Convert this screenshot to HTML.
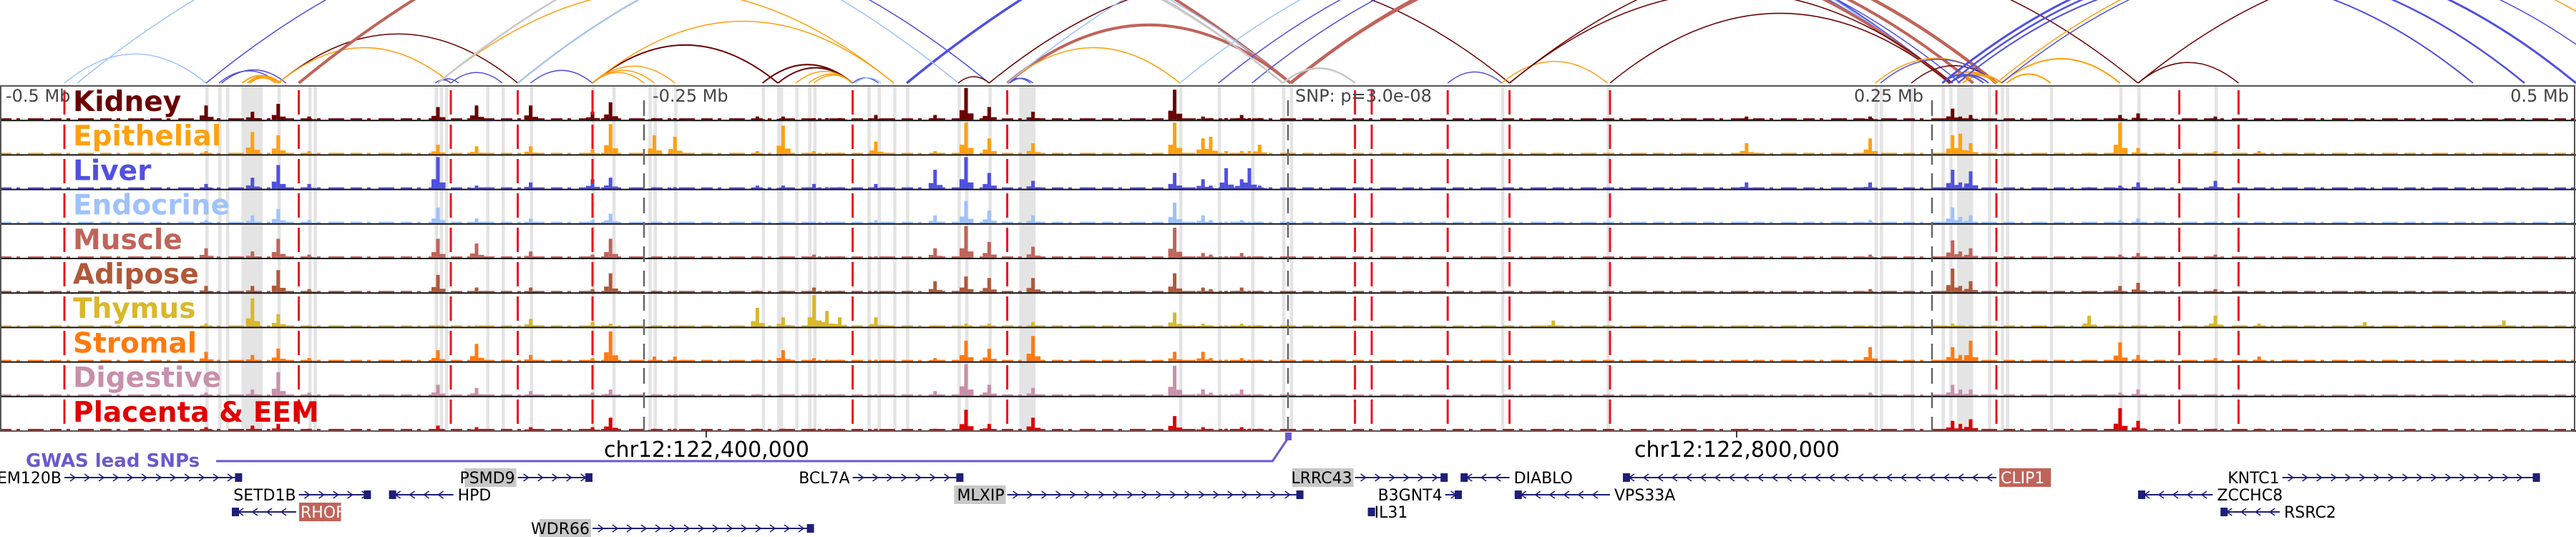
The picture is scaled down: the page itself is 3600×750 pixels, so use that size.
<!DOCTYPE html>
<html><head><meta charset="utf-8"><style>
html,body{margin:0;padding:0;background:#fff;}
svg{display:block;font-family:"DejaVu Sans","Liberation Sans",sans-serif;}
</style></head><body>
<svg id="chart" width="3600" height="750" viewBox="0 0 3600 750" xmlns="http://www.w3.org/2000/svg">
<g id="arcs"></g>
<g id="highlights"></g>
<g id="tracks"></g>
<g id="vlines"></g>
<g id="labels"></g>
<g id="genes"></g>
</svg>
<script>
const tissues = ["Kidney","Epithelial","Liver","Endocrine","Muscle","Adipose","Thymus","Stromal","Digestive","Placenta & EEM"];
const tissueColors = ["#6b0000","#ffa010","#5050e0","#9ec2fa","#c0645a","#b0583a","#d9b82a","#ff7a10","#c890aa","#e00000"];
const peakKb = [-420,-402,-392,-380,-330,-315,-294,-270,-263,-246,-238,-206,-196,-184,-179,-174,-160,-137,-125,-116,-99,-44,-33,-30,-24,-18,-15,-11,103,178,226,258,261,265,311,323,330,360,377,418,472];
const peakHeights = [
[.45,.1,.15,.1,.3,.2,.1,.3,.1,.1],
[.25,.7,.35,.25,.2,.2,.9,.2,.2,.15],
[.5,.6,.75,.45,.6,.7,.4,.4,.75,.2],
[.1,.1,.15,.1,.1,.1,.05,.1,.1,.05],
[.4,.3,1,.5,.6,.55,.05,.35,.35,.15],
[.45,.25,.1,.15,.45,.15,.05,.55,.25,.1],
[.45,.25,.2,.15,.2,.15,.25,.2,.15,.1],
[.25,.15,.3,.1,.1,.1,.15,.1,.1,.1],
[.55,.95,.35,.3,.6,.6,.1,.95,.2,.4],
[.05,.6,.05,.05,.05,.05,.05,.15,.05,.05],
[.05,.55,.05,.05,.05,.05,.05,.15,.05,.05],
[.1,.1,.1,.05,.05,.05,.6,.05,.05,.05],
[.1,.9,.1,.05,.05,.05,.3,.35,.05,.05],
[.05,.1,.15,.05,.1,.15,1,.1,.05,.05],
[.05,.05,.05,.05,.05,.05,.5,.05,.05,.05],
[.05,.05,.05,.05,.05,.05,.3,.05,.05,.05],
[.15,.4,.15,.1,.05,.05,.3,.05,.05,.05],
[.15,.1,.6,.25,.3,.35,.05,.1,.15,.05],
[1,1,1,.7,1,.5,.1,.65,1,.65],
[.4,.5,.5,.4,.5,.45,.1,.4,.35,.2],
[.25,.35,.25,.25,.35,.45,.15,.8,.25,.4],
[.95,1,.5,.65,.95,.6,.45,.3,.95,.45],
[.1,.5,.3,.25,.15,.15,.1,.3,.2,.1],
[.05,.55,.1,.1,.1,.1,.05,.1,.1,.05],
[.05,.1,.65,.05,.05,.05,.05,.05,.05,.05],
[.15,.1,.3,.1,.15,.15,.1,.1,.2,.1],
[.05,.1,.65,.05,.05,.05,.05,.05,.05,.05],
[.05,.3,.1,.05,.05,.05,.05,.05,.05,.05],
[.02,.02,.02,.02,.02,.02,.2,.02,.02,.02],
[.1,.35,.2,.05,.05,.05,.05,.05,.05,.05],
[.1,.5,.2,.1,.1,.1,.05,.45,.1,.05],
[.35,.6,.6,.5,.55,.75,.1,.45,.35,.3],
[.1,.65,.2,.2,.2,.2,.05,.2,.2,.2],
[.15,.35,.55,.25,.3,.35,.05,.65,.2,.35],
[.02,.05,.05,.02,.02,.02,.35,.02,.02,.02],
[.15,1,.1,.1,.1,.2,.05,.6,.1,.7],
[.2,.2,.2,.15,.15,.3,.05,.2,.2,.3],
[.1,.1,.25,.05,.1,.1,.35,.1,.05,.05],
[.02,.1,.02,.02,.02,.02,.1,.15,.02,.05],
[.02,.02,.02,.02,.02,.02,.15,.02,.02,.02],
[.02,.05,.02,.02,.02,.02,.2,.02,.02,.02]];
const highlightKb = [[-420,-419],[-415,-414],[-412,-411],[-406,-398],[-392,-391],[-380,-379],[-378,-377],[-331,-330],[-329,-328],[-327,-326],[-311,-310],[-305,-304],[-294,-293],[-270,-269],[-262,-261],[-248,-247],[-246,-245],[-238,-237],[-204,-203],[-198,-197],[-197,-196],[-191,-190],[-186,-185],[-184,-183],[-163,-162],[-159,-158],[-153,-152],[-148,-147],[-128,-127],[-125,-124],[-116,-115],[-104,-103],[-103,-98],[-42,-41],[-27,-26],[-14,-13],[-2,-1],[1,2],[83,84],[124,125],[228,229],[230,231],[242,243],[254,255],[257,258],[260,266],[272,273],[277,278],[279,280],[296,297],[323,324],[330,331],[360,361]];
const redLineKb = [-475,-384,-325,-299,-270,-169,-109,26,32.5,62,86,125,275,346,369];
const arcKb = [[-475,-420],[-415,-392],[-414,-389],[-406,-392],[-404,-391],[-403,-393],[-392,-299],[-392,-325],[-384,1],[-331,-325],[-330,-322],[-325,-305],[-270,-198],[-299,-2],[-299,1],[-294,-270],[-270,-246],[-270,-238],[-270,-250],[-270,-153],[-330,-153],[-204,-169],[-198,-169],[-191,-169],[-186,-169],[-184,-169],[-169,-159],[-168,-158],[-148,257],[-470,-128],[-420,-116],[-128,-116],[-116,86],[-109,1],[-109,-42],[-109,-100],[-108,-99],[-109,257],[-42,257],[-27,257],[-14,261],[-330,-2],[1,275],[1,266],[1,257],[-2,26],[62,83],[83,124],[86,258],[125,257],[242,275],[228,275],[230,275],[254,275],[257,275],[260,275],[262,277],[254,270],[257,272],[86,330],[330,369],[330,560],[277,323],[279,296],[277,520],[275,540],[254,500],[257,480],[260,460]];
const arcTissue = [3,2,2,1,1,1,0,1,4,2,2,2,0,10,3,2,1,1,1,1,1,0,0,1,1,1,2,3,2,3,2,0,0,4,1,2,2,3,3,2,2,10,4,4,4,10,2,1,0,0,0,1,2,1,1,1,1,2,2,0,0,0,1,1,2,1,2,2,2];
const arcThick = [1.5,1.5,1.5,2,2,2,1.5,1.5,4,1.5,1.5,1.5,2,2.5,1.5,1.5,1.5,1.5,1.5,1.5,1.5,2,2,1.5,1.5,1.5,1.5,1.5,3.5,1.5,1.5,1.5,1.5,4,1.5,1.5,1.5,1.5,1.5,1.5,1.5,2.5,4.5,4,4,2.5,1.5,1.5,1.5,1.5,1.5,1.5,1.5,2,2,2,2,2,2,1.5,1.5,1.5,2,2,1.5,1.5,3,2.5,2];
const genes = [
["TMEM120B",-475,-406,0,1,"plain"],["PSMD9",-299,-270,0,1,"gray"],["BCL7A",-169,-126,0,1,"plain"],["LRRC43",26,62,0,1,"gray"],["DIABLO",67,86,0,-1,"plain"],["CLIP1",130,275,0,-1,"red"],["KNTC1",386,486,0,1,"plain"],
["SETD1B",-384,-356,1,1,"plain"],["HPD",-349,-324,1,-1,"plain"],["MLXIP",-109,6,1,1,"gray"],["B3GNT4",61,67.5,1,1,"plain"],["VPS33A",88,125,1,-1,"plain"],["ZCCHC8",330,359,1,-1,"plain"],
["RHOF",-410,-385,2,-1,"red"],["IL31",31,31.5,2,-1,"plain"],["RSRC2",362,385,2,-1,"plain"],
["WDR66",-270,-184,3,1,"gray"]];

const NS="http://www.w3.org/2000/svg";
const X = kb => 1800 + kb*3.6;
const TOP=120, TH=48.2, BASE=116;
function mk(tag, attrs, parent){const e=document.createElementNS(NS,tag);for(const k in attrs)e.setAttribute(k,attrs[k]);parent.appendChild(e);return e;}
const gA=document.getElementById('arcs'), gH=document.getElementById('highlights'), gT=document.getElementById('tracks'), gV=document.getElementById('vlines'), gL=document.getElementById('labels'), gG=document.getElementById('genes');
const arcColors = tissueColors.concat(["#c8c8c8"]);

arcKb.forEach((a,i)=>{
  const x1=X(a[0]), x2=X(a[1]), w=Math.abs(x2-x1), m=(x1+x2)/2;
  const p=mk('path',{d:`M${x1},${BASE} Q${m},${BASE-0.41*w} ${x2},${BASE}`,fill:'none',stroke:arcColors[arcTissue[i]],'stroke-width':arcThick[i]},gA);
  
  
});

highlightKb.forEach(h=>{
  const x1=X(h[0]), x2=X(h[1]);
  const r=mk('rect',{x:x1-1,y:TOP,width:Math.max(4,x2-x1+1),height:TH*10,fill:'#e4e4e4'},gH);
  
  
});

tissues.forEach((t,ti)=>{
  const top=TOP+ti*TH, bot=top+TH-1, col=tissueColors[ti];
  const g=mk('g',{},gT);
  
  
  mk('line',{x1:0,x2:3600,y1:bot-1,y2:bot-1,stroke:col,'stroke-width':2,'stroke-dasharray':'16 7 5 11 22 9'},g);
  peakKb.forEach((kb,pi)=>{
    const h=peakHeights[pi][ti]*(TH-4), x=X(kb);
    const b=mk('rect',{x:x-2.5,y:bot-h,width:5,height:h,fill:col},g);
    
    
    mk('rect',{x:x-9,y:bot-h*0.3,width:6.5,height:h*0.3,fill:col},g);
    mk('rect',{x:x+2.5,y:bot-h*0.2,width:8,height:h*0.2,fill:col},g);
  });
  const sep=mk('line',{x1:0,x2:3600,y1:top+TH,y2:top+TH,stroke:'#111','stroke-width':2},g);
  
  
});
mk('rect',{x:1,y:TOP,width:3597,height:TH*10,fill:'none',stroke:'#555','stroke-width':2},gT);

[-250,0,250].forEach(kb=>{
  const l=mk('line',{x1:X(kb),x2:X(kb),y1:TOP+20,y2:TOP+TH*10,stroke:'#666','stroke-width':2.5,'stroke-dasharray':'22 12'},gV);
  
  
});
redLineKb.forEach(kb=>{
  const l=mk('line',{x1:X(kb),x2:X(kb),y1:TOP,y2:TOP+TH*10,stroke:'#e8141e','stroke-width':3,'stroke-dasharray':'34 14','stroke-dashoffset':'-6'},gV);
  
  
});

[["-0.5 Mb",8,"start"],["-0.25 Mb",912,"start"],["SNP: p=3.0e-08",1810,"start"],["0.25 Mb",2688,"end"],["0.5 Mb",3590,"end"]].forEach(s=>{
  const t=mk('text',{x:s[1],y:142,'font-size':24,fill:'#444','text-anchor':s[2]},gL);
  t.textContent=s[0];
  
  
});
tissues.forEach((t,ti)=>{
  const e=mk('text',{x:102,y:TOP+ti*TH+35,'font-size':39,'font-weight':'bold',fill:tissueColors[ti]},gL);
  e.textContent=t;
  
  
});

const gw=mk('text',{x:36,y:652,'font-size':26,'font-weight':'bold',fill:'#6a5acd'},gG);
gw.textContent="GWAS lead SNPs";


const gl=mk('polyline',{points:`302,644 ${X(-6)},644 ${X(0)},612`,fill:'none',stroke:'#6a5acd','stroke-width':3},gG);


mk('rect',{x:X(0)-4,y:604,width:9,height:11,fill:'#6a5acd'},gG);
[["chr12:122,400,000",844,987],["chr12:122,800,000",2284,2427]].forEach(c=>{
  const t=mk('text',{x:c[1],y:638,'font-size':30,fill:'#000'},gG);
  t.textContent=c[0];
  
  
  mk('line',{x1:c[2],x2:c[2],y1:602,y2:611,stroke:'#000','stroke-width':1.5},gG);
});

const rowY=[667,691,715,738];
genes.forEach(gn=>{
  const [name,s,e,row,strand,style]=gn;
  const x1=X(s), x2=Math.max(X(e),X(s)+3), y=rowY[row];
  const g=mk('g',{},gG);
  
  
  mk('line',{x1:x1,x2:x2,y1:y,y2:y,stroke:'#1f1f7a','stroke-width':2},g);
  for(let cx=x1+12; cx<x2-8; cx+=20){
    const d = strand>0 ? `M${cx-4},${y-5} L${cx+3},${y} L${cx-4},${y+5}` : `M${cx+4},${y-5} L${cx-3},${y} L${cx+4},${y+5}`;
    mk('path',{d:d,fill:'none',stroke:'#1f1f7a','stroke-width':1.6},g);
  }
  const ex = strand>0 ? x2-10 : x1;
  mk('rect',{x:ex,y:y-6,width:10,height:12,fill:'#1f1f7a'},g);
  const left = strand>0;
  const tx = left ? x1-4 : x2+6;
  const fs=22, tw=name.length*fs*0.62;
  const bx = left ? tx-tw-2 : tx-2;
  if(style==="gray") mk('rect',{x:bx,y:y-13,width:tw+4,height:26,fill:'#c8c8c8'},g);
  if(style==="red") mk('rect',{x:bx,y:y-13,width:tw+4,height:26,fill:'#c0645a'},g);
  const t=mk('text',{x:tx,y:y+8,'font-size':fs,'text-anchor':left?'end':'start',fill:style==="red"?'#fff':'#000'},g);
  t.textContent=name;
});
</script>
</body></html>
